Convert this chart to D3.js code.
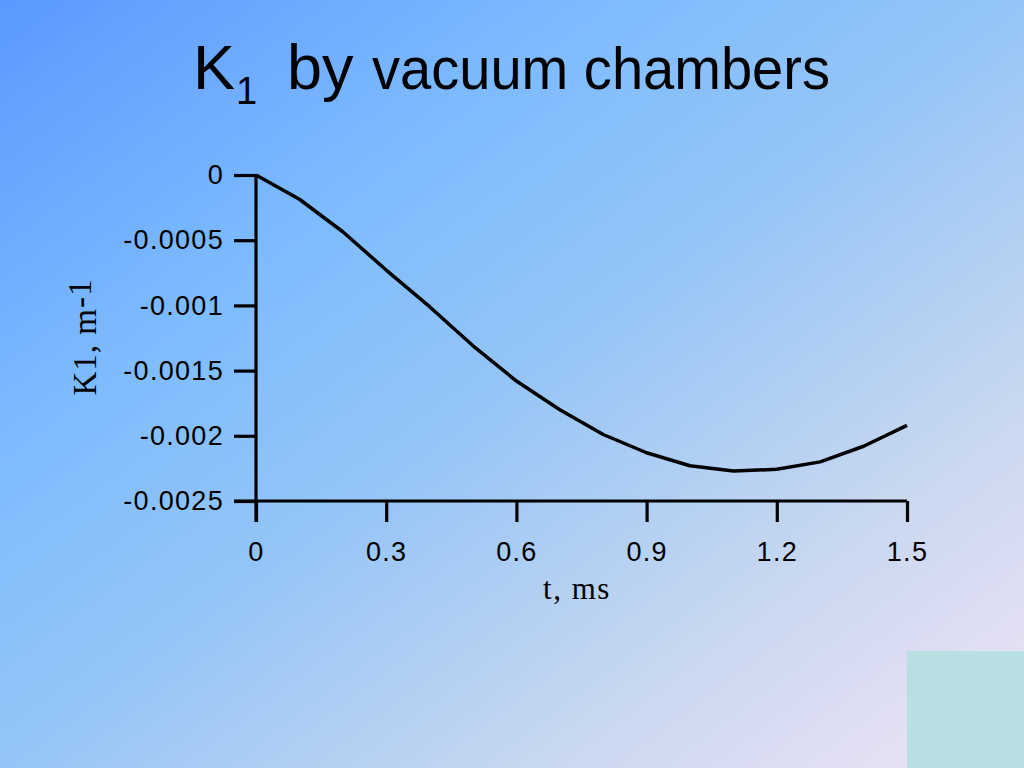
<!DOCTYPE html>
<html>
<head>
<meta charset="utf-8">
<script src="https://cdn.jsdelivr.net/npm/d3@7/dist/d3.min.js"></script>
<style>
  html, body { margin: 0; padding: 0; overflow: hidden; }
  svg { display: block; }
</style>
</head>
<body>
<script>
// ---- Data ----
const tValues = [0, 0.1, 0.2, 0.3, 0.4, 0.5, 0.6, 0.7, 0.8, 0.9, 1.0, 1.1, 1.2, 1.3, 1.4, 1.5];
const k1Values = [0, -0.000186, -0.000435, -0.000729, -0.00101, -0.00131, -0.00158, -0.0018,
                  -0.00199, -0.00213, -0.00223, -0.00227, -0.002257, -0.0022, -0.00208, -0.00192];
const xTickValues = [0, 0.3, 0.6, 0.9, 1.2, 1.5];
const xTickLabels = ["0", "0.3", "0.6", "0.9", "1.2", "1.5"];
const yTickValues = [0, -0.0005, -0.001, -0.0015, -0.002, -0.0025];
const yTickLabels = ["0", "-0.0005", "-0.001", "-0.0015", "-0.002", "-0.0025"];

const W = 1024, H = 768;
const svg = d3.select("body").append("svg").attr("width", W).attr("height", H);

// background gradient
const defs = svg.append("defs");
const grad = defs.append("linearGradient").attr("id", "bg")
  .attr("x1", 0).attr("y1", 0).attr("x2", 1).attr("y2", 1);
[[0, "#5a99ff"], [0.3, "#7ebcff"], [0.5, "#95c5f7"], [0.75, "#c6d7f0"], [1, "#f2e4f6"]]
  .forEach(([o, c]) => grad.append("stop").attr("offset", o).attr("stop-color", c));
svg.append("rect").attr("width", W).attr("height", H).attr("fill", "url(#bg)");

// decorative teal square
svg.append("rect").attr("x", 907).attr("y", 651).attr("width", 117).attr("height", 117)
  .attr("fill", "#b9dfe2");

// title
const title = svg.append("g").attr("font-family", "'Liberation Sans', Arial, sans-serif").attr("fill", "#000");
title.append("text").attr("x", 193).attr("y", 89).attr("font-size", 63).text("K");
title.append("text").attr("x", 236).attr("y", 104).attr("font-size", 38).text("1");
title.append("text").attr("x", 287).attr("y", 89).attr("font-size", 63).text("by");
title.append("text").attr("x", 372).attr("y", 89).attr("font-size", 60)
  .attr("textLength", 458).attr("lengthAdjust", "spacingAndGlyphs").text("vacuum chambers");

// scales
const x = d3.scaleLinear().domain([0, 1.5]).range([256, 907]);
const y = d3.scaleLinear().domain([-0.0025, 0]).range([501, 175]);

const xAxis = d3.axisBottom(x).tickValues(xTickValues)
  .tickFormat((d, i) => xTickLabels[i]).tickSize(21).tickSizeOuter(0).tickPadding(20);
const yAxis = d3.axisLeft(y).tickValues(yTickValues)
  .tickFormat((d, i) => yTickLabels[i]).tickSize(22).tickSizeOuter(0).tickPadding(10);

const gx = svg.append("g").attr("transform", "translate(0,501)").call(xAxis);
const gy = svg.append("g").attr("transform", "translate(256,0)").call(yAxis);

[gx, gy].forEach(g => {
  g.select(".domain").attr("stroke", "#000").attr("stroke-width", 3.2);
  g.selectAll(".tick line").attr("stroke", "#000").attr("stroke-width", 3.2);
  g.selectAll(".tick text").attr("fill", "#000")
    .attr("font-family", "'Liberation Sans', Arial, sans-serif")
    .attr("font-size", 27).attr("letter-spacing", 1.3);
});
gx.select(".domain").attr("d", `M234,0H${x(1.5)}`);
gy.select(".domain").attr("d", `M0,${y(0)}V${501 + 21}`);

// line
const line = d3.line().x((d, i) => x(tValues[i])).y(d => y(d));
svg.append("path").datum(k1Values).attr("d", line)
  .attr("fill", "none").attr("stroke", "#000").attr("stroke-width", 3.5)
  .attr("stroke-linejoin", "round");

// axis titles
svg.append("text").attr("x", 577).attr("y", 599).attr("text-anchor", "middle")
  .attr("font-family", "'Liberation Serif', 'Times New Roman', serif")
  .attr("font-size", 31).attr("letter-spacing", 1.5).text("t, ms");

const yt = svg.append("text")
  .attr("transform", "translate(96,337) rotate(-90)")
  .attr("text-anchor", "middle")
  .attr("font-family", "'Liberation Serif', 'Times New Roman', serif")
  .attr("font-size", 33).attr("letter-spacing", 1);
yt.append("tspan").text("K1, m");
yt.append("tspan").attr("dy", -5).text("-1");
</script>
</body>
</html>
